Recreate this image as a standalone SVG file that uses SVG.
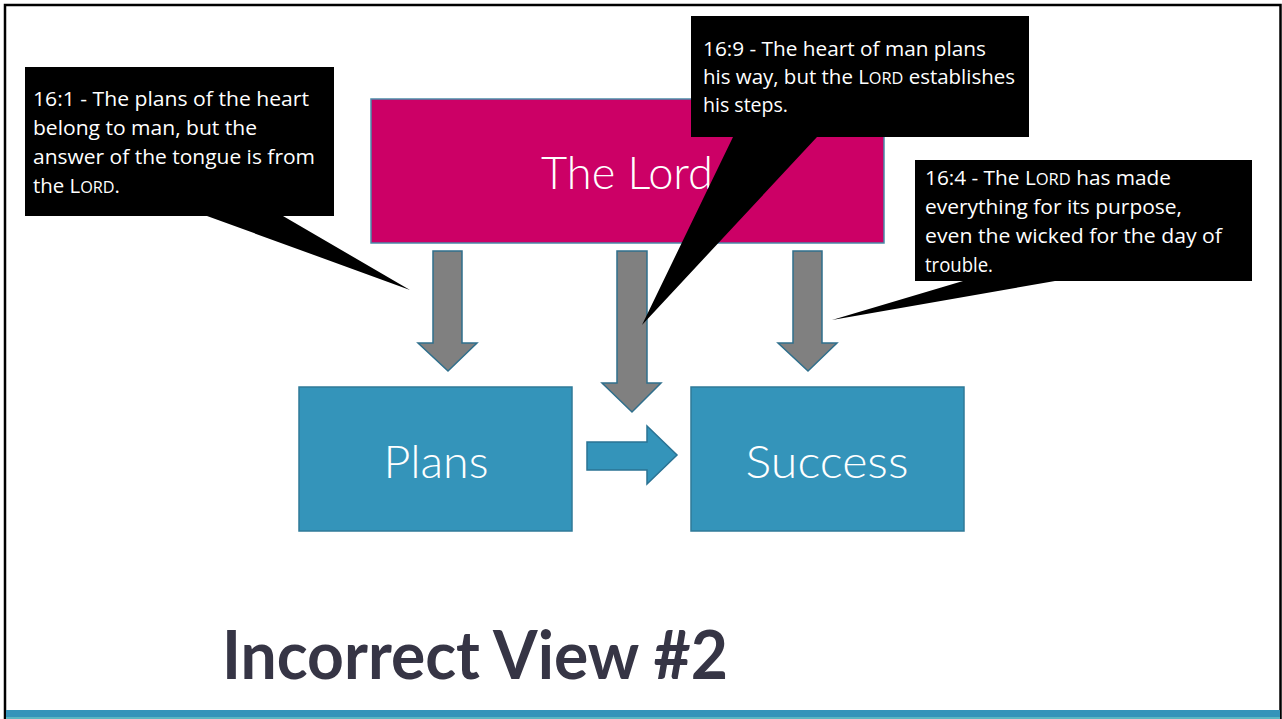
<svg xmlns="http://www.w3.org/2000/svg" width="1282" height="719" viewBox="0 0 1282 719">
<style>
.box{stroke:#2f7a98;stroke-width:1.5}
.lord{fill:#cc0066;stroke:#4a8aa8;stroke-width:1.5}
.blue{fill:#3494ba}
.darr{fill:#808080;stroke:#2f6f8c;stroke-width:1.5;stroke-linejoin:miter}
.rarr{fill:#3494ba;stroke:#2a7394;stroke-width:1.5}
.call{fill:#000000}
.ct{font-family:"Open Sans","DejaVu Sans",sans-serif;font-size:19.5px;fill:#ffffff}
.sc{font-size:15.5px}
.big{font-family:Lato,"Open Sans",sans-serif;font-weight:300;font-size:46px;fill:#ffffff;text-anchor:middle}
.title{font-family:Lato,"Open Sans",sans-serif;font-weight:700;font-size:66px;fill:#363545}
</style>
<rect x="0" y="0" width="1282" height="719" fill="#ffffff"/>
<rect x="5" y="5" width="1275.5" height="730" fill="none" stroke="#000000" stroke-width="2.5"/>
<rect x="6" y="710" width="1274" height="7" fill="#3494ba"/>
<rect x="6" y="717" width="1274" height="2" fill="#5ab6c2"/>

<g id="node-lord">
<rect class="lord" x="371" y="99" width="513" height="144"/>
<text class="big" x="627" y="189" textLength="172" lengthAdjust="spacingAndGlyphs">The Lord</text>
</g>
<g id="node-plans">
<rect class="box blue" x="299" y="387" width="273" height="144"/>
<text class="big" x="436" y="478" textLength="105" lengthAdjust="spacingAndGlyphs">Plans</text>
</g>
<g id="node-success">
<rect class="box blue" x="691" y="387" width="273" height="144"/>
<text class="big" x="827" y="478" textLength="163" lengthAdjust="spacingAndGlyphs">Success</text>
</g>

<g id="connectors">
<polygon class="darr" points="433,251 462,251 462,343 477,343 448,371 418,343 433,343"/>
<polygon class="darr" points="617,251 647,251 647,383 661,383 632,412 602,383 617,383"/>
<polygon class="darr" points="793,251 822,251 822,343 837,343 808,371 778,343 793,343"/>
<polygon class="rarr" points="587,442 647,442 647,426 677,455 647,484 647,470 587,470"/>
</g>

<g id="callout-16-1">
<polygon class="call" points="25,67 334,67 334,216 283,216 410,290 207,216 25,216"/>
<text class="ct" x="33" y="106" textLength="276" lengthAdjust="spacingAndGlyphs">16:1 - The plans of the heart</text>
<text class="ct" x="33" y="135" textLength="224" lengthAdjust="spacingAndGlyphs">belong to man, but the</text>
<text class="ct" x="33" y="164" textLength="282" lengthAdjust="spacingAndGlyphs">answer of the tongue is from</text>
<text class="ct" x="33" y="193" textLength="87" lengthAdjust="spacingAndGlyphs">the L<tspan class="sc">ORD</tspan>.</text>
</g>

<g id="callout-16-9">
<polygon class="call" points="691,16 1029,16 1029,137 817,137 642,325 733,137 691,137"/>
<text class="ct" x="703" y="56" textLength="283" lengthAdjust="spacingAndGlyphs">16:9 - The heart of man plans</text>
<text class="ct" x="703" y="84" textLength="312" lengthAdjust="spacingAndGlyphs">his way, but the L<tspan class="sc">ORD</tspan> establishes</text>
<text class="ct" x="703" y="112" textLength="85" lengthAdjust="spacingAndGlyphs">his steps.</text>
</g>

<g id="callout-16-4">
<polygon class="call" points="915,160 1252,160 1252,281 1055,281 832,320 963,281 915,281"/>
<text class="ct" x="925" y="185" textLength="246" lengthAdjust="spacingAndGlyphs">16:4 - The L<tspan class="sc">ORD</tspan> has made</text>
<text class="ct" x="925" y="214" textLength="257" lengthAdjust="spacingAndGlyphs">everything for its purpose,</text>
<text class="ct" x="925" y="243" textLength="297" lengthAdjust="spacingAndGlyphs">even the wicked for the day of</text>
<text class="ct" x="925" y="272" textLength="68" lengthAdjust="spacingAndGlyphs">trouble.</text>
</g>

<text class="title" x="222" y="679" textLength="506" lengthAdjust="spacingAndGlyphs">Incorrect View #2</text>
</svg>
